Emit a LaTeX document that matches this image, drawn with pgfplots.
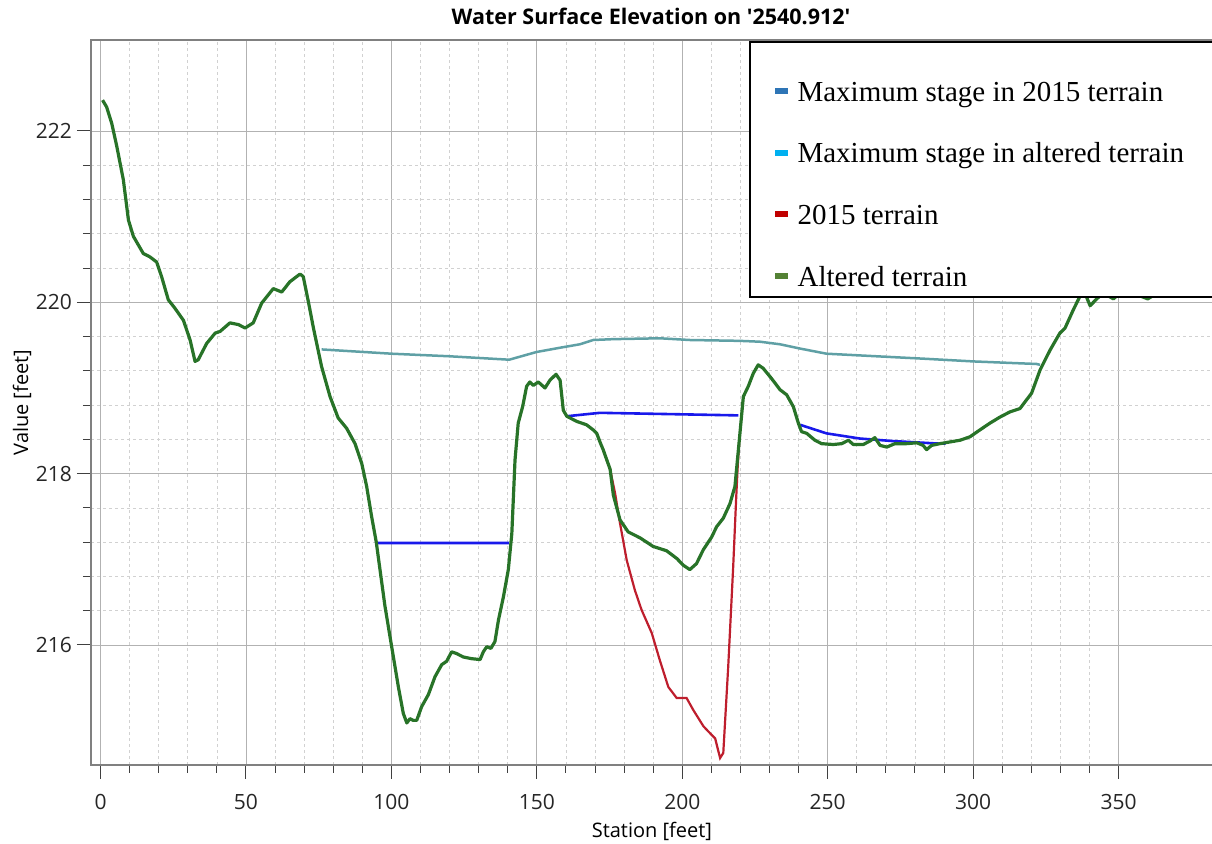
\documentclass[border=0pt]{standalone}
\usepackage{fontspec}
\setmainfont{Open Sans}
\newfontfamily\legfont{Liberation Serif}
\newfontfamily\titlefont[Ligatures=TeXOff]{Open Sans}
\usepackage{pgfplots}
\pgfplotsset{compat=1.18}
\usepackage{pgfplotstable}

\definecolor{altgreen}{RGB}{40,115,40}
\definecolor{oldred}{RGB}{190,30,45}
\definecolor{stageblue}{RGB}{25,25,235}
\definecolor{stageteal}{RGB}{95,160,165}
\definecolor{lgA}{RGB}{46,117,182}
\definecolor{lgB}{RGB}{0,176,240}
\definecolor{lgC}{RGB}{192,0,0}
\definecolor{lgD}{RGB}{84,130,53}

\pgfplotstableread{
x y
0.7 222.36
2.1 222.28
3.85 222.09
5.6 221.82
7.85 221.43
9.6 220.96
11.3 220.77
14.7 220.57
17.0 220.53
19.3 220.47
21.0 220.30
23.3 220.03
25.6 219.93
28.5 219.79
30.8 219.56
32.5 219.31
33.6 219.33
36.5 219.52
39.4 219.64
41.1 219.66
44.5 219.76
47.4 219.74
49.7 219.70
52.5 219.76
55.4 219.99
59.4 220.16
62.3 220.12
65.1 220.24
68.6 220.33
69.7 220.30
71.5 220.00
73.2 219.70
76.0 219.25
78.9 218.90
81.7 218.65
84.6 218.53
87.5 218.35
89.8 218.12
91.5 217.85
93.2 217.50
94.8 217.20
96.4 216.80
97.8 216.45
100.1 215.98
102.4 215.51
104.1 215.20
105.3 215.09
106.4 215.14
107.5 215.12
108.7 215.12
110.4 215.28
112.7 215.42
115.0 215.63
117.3 215.77
119.0 215.81
120.7 215.92
122.4 215.90
124.7 215.86
127.6 215.84
130.5 215.83
131.6 215.92
132.8 215.98
134.2 215.96
135.6 216.04
136.8 216.29
138.5 216.56
140.2 216.88
141.4 217.30
141.9 217.69
142.5 218.16
143.6 218.59
145.1 218.78
146.5 219.02
147.6 219.07
148.8 219.03
150.5 219.07
152.8 219.00
154.5 219.09
156.6 219.16
158.0 219.09
159.1 218.74
160.3 218.67
163.7 218.61
167.1 218.57
169.4 218.51
170.6 218.47
171.7 218.37
172.8 218.28
175.2 218.05
176.3 217.75
178.6 217.46
181.4 217.32
185.5 217.25
190.0 217.15
194.6 217.10
198.1 217.01
200.4 216.93
202.6 216.88
204.9 216.95
207.2 217.11
210.1 217.26
211.8 217.38
214.1 217.48
216.4 217.65
218.1 217.85
219.6 218.39
221.0 218.90
222.7 219.02
224.4 219.17
226.1 219.27
227.8 219.23
230.7 219.11
233.6 218.98
235.9 218.92
238.2 218.78
239.9 218.59
241.0 218.49
242.8 218.47
245.6 218.39
247.9 218.35
251.9 218.34
254.8 218.35
257.1 218.39
258.8 218.34
262.2 218.34
264.5 218.38
266.2 218.42
268.0 218.33
270.3 218.31
273.1 218.35
277.1 218.35
280.6 218.36
282.8 218.33
284.0 218.28
285.7 218.33
288.6 218.35
292.0 218.37
295.5 218.39
298.9 218.43
302.3 218.51
305.8 218.59
309.2 218.66
312.6 218.72
316.1 218.76
320.1 218.94
323.0 219.21
326.4 219.44
329.8 219.64
331.6 219.70
334.4 219.91
336.7 220.07
338.4 220.11
340.2 219.96
342.5 220.04
344.7 220.11
348.2 220.04
349.9 220.09
353.0 220.12
357.0 220.08
360.0 220.04
362.0 220.08
366.0 220.20
372.0 220.50
380.0 220.80
}\altered

\pgfplotstableread{
x y
172.8 218.28
175.2 218.05
176.9 217.77
178.6 217.42
180.9 216.99
183.7 216.64
186.0 216.41
189.5 216.14
192.3 215.82
195.2 215.51
198.1 215.38
201.5 215.38
203.8 215.24
207.3 215.05
210.1 214.95
211.3 214.91
213.0 214.68
214.1 214.74
215.8 215.75
217.5 216.91
218.5 217.69
219.0 218.05
219.6 218.39
}\terrainold

\pgfplotstableread{
x y
94.4 217.19
140.5 217.19
150.0 nan
160.3 218.67
171.7 218.71
187.8 218.70
219.3 218.68
230.0 nan
240.5 218.57
249.6 218.47
261.0 218.41
272.5 218.38
288.6 218.35
290.5 218.35
}\stageold

\pgfplotstableread{
x y
76.0 219.45
100.1 219.40
120.0 219.37
140.5 219.33
149.9 219.42
158.0 219.47
164.8 219.51
169.4 219.56
176.3 219.57
192.3 219.58
202.6 219.56
219.8 219.55
226.7 219.54
229.0 219.53
233.6 219.51
240.5 219.46
249.6 219.40
266.8 219.37
284.0 219.34
300.0 219.31
321.8 219.28
323.0 219.27
}\stagealt

\begin{document}
\begin{tikzpicture}[x=1pt,y=1pt]
\begin{axis}[
  at={(91pt,78pt)}, anchor=south west,
  width=1139pt, height=725pt, scale only axis,
  xmin=-3.27, xmax=388.3, ymin=214.599, ymax=223.062,
  xtick={0,50,...,350}, ytick={216,218,220,222},
  minor x tick num=4, minor y tick num=4,
  tick pos=left,
  grid=both,
  major grid style={color=black!30, line width=0.9pt},
  minor grid style={color=black!18, dashed, line width=0.7pt},
  tick align=outside,
  major tick length=14pt, minor tick length=8pt,
  every tick/.style={color=black!75, line width=1pt},
  axis line style={color=black!50, line width=1.6pt},
  /pgf/number format/assume math mode=true,
  ticklabel style={font=\fontsize{21}{25}\selectfont, color=black!85},
  yticklabel style={anchor=east, inner sep=0pt, xshift=-5pt},
  xticklabel style={anchor=north, inner sep=0pt, yshift=-15pt},
  xlabel={Station [feet]},
  ylabel={Value [feet]},
  xlabel style={font=\fontsize{20}{24}\selectfont, at={(axis description cs:0.4925,-0.091)}, anchor=center},
  ylabel style={font=\fontsize{20}{24}\selectfont, at={(axis description cs:-0.0606,0.5)}, anchor=center, rotate=0},
  unbounded coords=jump,
  legend style={at={(rel axis cs:0.6005,0.9434)}, anchor=north west, draw=none, fill=none,
    inner sep=0pt, row sep=35.7pt, column sep=10pt,
    nodes={inner sep=0pt, anchor=base west, text height=20pt, text depth=6pt,
      font=\legfont\fontsize{29}{34}\selectfont}},
  legend cell align=left,
]
\addplot[forget plot, color=stageteal, line width=2.5pt] table[x=x,y=y] {\stagealt};
\addplot[forget plot, color=stageblue, line width=2.6pt] table[x=x,y=y] {\stageold};
\addplot[forget plot, color=oldred, line width=2.2pt] table[x=x,y=y] {\terrainold};
\addplot[forget plot, color=altgreen, line width=3.2pt, line join=round] table[x=x,y=y] {\altered};
\draw[black, line width=1.6pt, fill=white] (rel axis cs:0.5786,0.99724) rectangle (rel axis cs:1.05,0.6455);
\addlegendimage{legend image code/.code={\fill[lgA] (0pt,8pt) rectangle (12pt,13pt);}}
\addlegendentry{Maximum stage in 2015 terrain}
\addlegendimage{legend image code/.code={\fill[lgB] (0pt,8pt) rectangle (12pt,13pt);}}
\addlegendentry{Maximum stage in altered terrain}
\addlegendimage{legend image code/.code={\fill[lgC] (0pt,8pt) rectangle (12pt,13pt);}}
\addlegendentry{2015 terrain}
\addlegendimage{legend image code/.code={\fill[lgD] (0pt,8pt) rectangle (12pt,13pt);}}
\addlegendentry{Altered terrain}
\end{axis}
\node[font=\titlefont\bfseries\fontsize{21.5}{25}\selectfont] at (651,827) {Water Surface Elevation on '2540.912'};
\pgfresetboundingbox
\useasboundingbox (0,0) rectangle (1212,843);
\end{tikzpicture}
\end{document}
